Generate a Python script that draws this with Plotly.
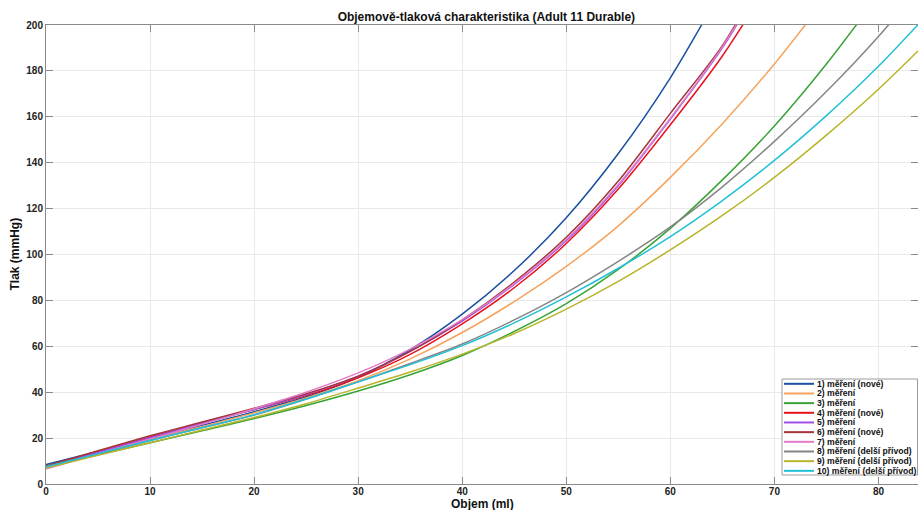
import plotly.graph_objects as go

# ---- data ----
objem = [0, 5, 10, 15, 20, 25, 30, 35, 40, 45, 50, 55, 60, 65, 70, 75, 80, 85]

names = [
    "1) měření (nové)",
    "2) měření",
    "3) měření",
    "4) měření (nové)",
    "5) měření",
    "6) měření (nové)",
    "7) měření",
    "8) měření (delší přívod)",
    "9) měření (delší přívod)",
    "10) měření (delší přívod)",
]
colors = ["#1a4fa0", "#f5a35c", "#38a334", "#e8121d", "#a04fe6",
          "#a3363a", "#e27cc8", "#858585", "#b8b42a", "#22c0d6"]

tlak_1 = [8.5, 14.2, 20.0, 25.6, 31.5, 38.0, 46.5, 58.5, 74.0, 93.0, 116.0, 144.0, 177.0, 216.0]
tlak_2 = [7.5, 13.5, 19.5, 25.0, 31.0, 37.5, 45.0, 54.5, 66.0, 79.5, 94.8, 112.5, 133.6, 157.0, 183.0, 212.0]
tlak_3 = [7.5, 12.8, 18.0, 23.2, 28.5, 34.2, 40.5, 47.6, 56.0, 66.5, 78.6, 93.5, 111.4, 132.5, 156.0, 183.0, 213.0]
tlak_4 = [7.5, 14.0, 20.5, 26.5, 32.5, 38.5, 46.3, 56.5, 69.8, 85.5, 104.8, 128.5, 156.5, 186.5, 222.0]
tlak_5 = [7.2, 13.8, 20.2, 26.5, 32.5, 39.0, 47.0, 57.8, 71.0, 87.0, 106.0, 130.0, 159.0, 190.0, 228.0]
tlak_6 = [7.8, 14.5, 21.0, 27.0, 33.0, 39.3, 47.0, 57.8, 71.5, 88.0, 107.5, 132.0, 161.5, 191.0, 230.0]
tlak_7 = [6.5, 13.2, 19.6, 26.0, 32.8, 40.0, 48.4, 58.8, 71.6, 87.3, 106.5, 130.5, 159.4, 190.5, 228.0]
tlak_8 = [7.5, 13.0, 19.0, 24.5, 30.0, 37.0, 44.5, 52.5, 61.0, 71.5, 83.4, 97.0, 112.0, 129.5, 149.3, 171.0, 195.0, 222.0]
tlak_9 = [7.0, 12.5, 18.0, 23.5, 29.0, 35.0, 41.8, 48.8, 56.6, 65.6, 76.2, 88.3, 102.0, 117.0, 133.6, 152.0, 172.0, 194.0]
tlak_10 = [7.5, 13.2, 19.0, 24.5, 30.2, 37.0, 44.5, 52.0, 60.3, 70.2, 81.5, 94.0, 107.8, 123.5, 141.0, 160.5, 182.0, 206.0]

series = [tlak_1, tlak_2, tlak_3, tlak_4, tlak_5, tlak_6, tlak_7, tlak_8, tlak_9, tlak_10]

x_ticks = [0, 10, 20, 30, 40, 50, 60, 70, 80]
y_ticks = [0, 20, 40, 60, 80, 100, 120, 140, 160, 180, 200]

# ---- figure ----
W, H = 918, 510
L, R, T, B = 46, 0, 25, 26
FONT = "Liberation Sans, Arial, Helvetica, sans-serif"
AX = "#8a8a8a"

fig = go.Figure()
for name, color, y in zip(names, colors, series):
    fig.add_trace(go.Scatter(
        x=objem[:len(y)], y=y, mode="lines", name=name, showlegend=False,
        line=dict(color=color, width=1.5, shape="spline", smoothing=0.8),
    ))

axis_common = dict(
    showgrid=True, gridcolor="#e9e9e9", gridwidth=1,
    showline=True, linecolor=AX, linewidth=1, mirror="ticks",
    ticks="inside", ticklen=7, tickcolor=AX, tickwidth=1,
    zeroline=False,
    tickfont=dict(family=FONT, size=10, color="#222222", weight="bold"),
)

fig.update_layout(
    width=W, height=H,
    margin=dict(l=L, r=R, t=T, b=B),
    paper_bgcolor="white", plot_bgcolor="white",
    font=dict(family=FONT, color="#111111"),
    title=dict(text="Objemově-tlaková charakteristika (Adult 11 Durable)",
               x=0.505, xref="paper", xanchor="center",
               y=1 - 17 / H, yref="container", yanchor="middle",
               font=dict(family=FONT, size=12, color="#111111", weight="bold")),
    xaxis=dict(range=[0, 83.8], tickvals=x_ticks, ticklabelstandoff=-2, **axis_common),
    yaxis=dict(range=[0, 200], tickvals=y_ticks, **axis_common),
    showlegend=False,
)

# axis titles
pw = W - L - R
ph = H - T - B
fig.add_annotation(text="Objem (ml)", xref="paper", yref="paper",
                   x=0.5, y=(ph - (504 - T)) / ph, showarrow=False,
                   xanchor="center", yanchor="middle",
                   font=dict(family=FONT, size=12, color="#111111", weight="bold"))
fig.add_annotation(text="Tlak (mmHg)", xref="paper", yref="paper",
                   x=(14 - L) / pw, y=0.5, showarrow=False, textangle=-90,
                   xanchor="center", yanchor="middle",
                   font=dict(family=FONT, size=12, color="#111111", weight="bold"))

# custom compact legend (box, line samples, labels)
def px_x(px):
    return (px - L) / pw

def px_y(py):
    return (T + ph - py) / ph

fig.add_shape(type="rect", xref="paper", yref="paper", layer="above",
              x0=px_x(782), x1=px_x(917.5), y0=px_y(475), y1=px_y(379),
              fillcolor="white", line=dict(color="#9a9a9a", width=1))
for i, (name, color) in enumerate(zip(names, colors)):
    yc = 383.8 + i * 9.67
    fig.add_shape(type="line", xref="paper", yref="paper", layer="above",
                  x0=px_x(784), x1=px_x(814), y0=px_y(yc), y1=px_y(yc),
                  line=dict(color=color, width=2))
    fig.add_annotation(text=name, xref="paper", yref="paper",
                       x=px_x(815), y=px_y(yc), showarrow=False,
                       xanchor="left", yanchor="middle",
                       font=dict(family=FONT, size=8.6, color="#111111", weight="bold"))

fig.write_html("out.html", config={"displayModeBar": False},
               post_script="document.body.style.margin='0';")
